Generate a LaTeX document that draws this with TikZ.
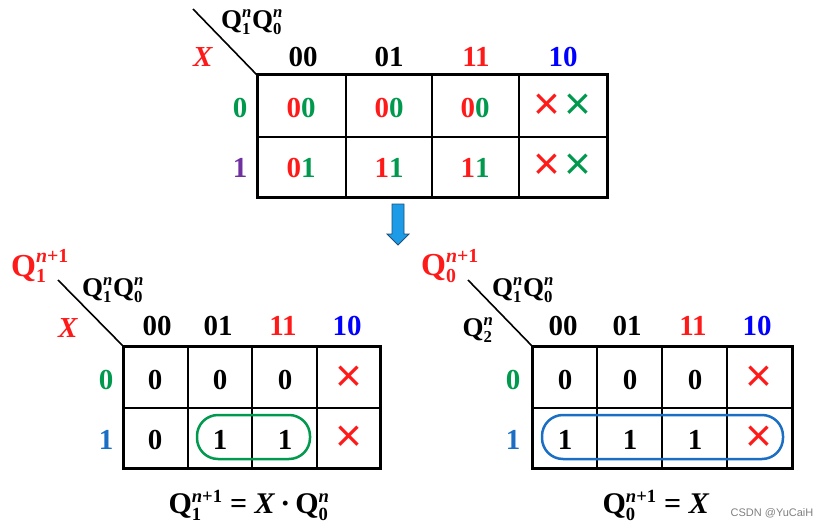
\documentclass[tikz,border=0pt]{standalone}
\usepackage{fontspec}
\setmainfont{Liberation Serif}
\setsansfont{Liberation Sans}
\usepackage{graphicx}
\definecolor{kred}{HTML}{FF1A1A}
\definecolor{kgreen}{HTML}{00994D}
\definecolor{kblue}{HTML}{0000FF}
\definecolor{rblue}{HTML}{1A6FC4}
\definecolor{kpurple}{HTML}{7030A0}
\definecolor{arrowfill}{HTML}{1E9BE6}
\definecolor{arrowline}{HTML}{1F4E79}
\newcommand\Qs[2]{$\mbox{Q}^{\mbox{\scalebox{0.62}{#2}}}_{\mbox{\scalebox{0.62}{#1}}}$}
\begin{document}
\begin{tikzpicture}[x=1pt,y=-1pt,
  every node/.style={inner sep=0pt},
  dig/.style={font=\fontsize{29}{30}\selectfont\bfseries},
  lab/.style={font=\fontsize{27}{30}\selectfont\bfseries},
  big/.style={font=\fontsize{32}{34}\selectfont\bfseries, text=kred},
  eq/.style={font=\fontsize{30}{32}\selectfont\bfseries},
  xm/.style={font=\fontsize{46}{46}\selectfont\sffamily\mdseries},
  outer/.style={line width=3pt},
  inner/.style={line width=1.2pt},
  diag/.style={line width=1.6pt},
  loopg/.style={draw=kgreen, line width=2.5pt, rounded corners=21pt},
  loopb/.style={draw=rblue, line width=2.5pt, rounded corners=21pt}]
\useasboundingbox (0,0) rectangle (825,527);
% ---------- top map ----------
\draw[inner] (346,75)--(346,197) (432,75)--(432,197) (519,75)--(519,197) (257,137)--(607,137);
\draw[outer] (257,75) rectangle (607,197);
\coordinate (tc) at (257,75);
\coordinate (td) at (193,9);
\draw[diag] (td) -- (tc);
\node[lab] (tqq) at (252,22) {\Qs{1}{\textit{n}}\Qs{0}{\textit{n}}};
\node[dig, text=kred] (tx) at (203,57) {\textit{X}};
\node[dig] (th1) at (303,57) {00};
\node[dig] (th2) at (389,57) {01};
\node[dig, text=kred] (th3) at (476,57) {11};
\node[dig, text=kblue] (th4) at (563,57) {10};
\node[dig, text=kgreen] (tr0) at (240,108) {0};
\node[dig, text=kpurple] (tr1) at (240,168) {1};
\node[dig] (t01) at (301,108) {\textcolor{kred}{0}\textcolor{kgreen}{0}};
\node[dig] (t02) at (389,108) {\textcolor{kred}{0}\textcolor{kgreen}{0}};
\node[dig] (t03) at (475,108) {\textcolor{kred}{0}\textcolor{kgreen}{0}};
\node[xm, text=kred] (t04a) at (547,107) {×};
\node[xm, text=kgreen] (t04b) at (578,107) {×};
\node[dig] (t11) at (301,168) {\textcolor{kred}{0}\textcolor{kgreen}{1}};
\node[dig] (t12) at (389,168) {\textcolor{kred}{1}\textcolor{kgreen}{1}};
\node[dig] (t13) at (475,168) {\textcolor{kred}{1}\textcolor{kgreen}{1}};
\node[xm, text=kred] (t14a) at (547,167) {×};
\node[xm, text=kgreen] (t14b) at (578,167) {×};
% ---------- arrow ----------
\draw[arrowline, fill=arrowfill, line width=0.8pt] (392,204)--(404,204)--(404,234)--(409,234)--(398,245)--(387,234)--(392,234)--cycle;
% ---------- bottom-left map ----------
\draw[inner] (188,346)--(188,468) (252,346)--(252,468) (317,346)--(317,468) (123,408)--(380,408);
\draw[outer] (123,346) rectangle (380,468);
\coordinate (lc) at (123,346);
\coordinate (ld) at (58,280);
\draw[diag] (ld) -- (lc);
\node[big] (lq) at (40,266) {\Qs{1}{\textit{n}+1}};
\node[lab] (lqq) at (113,290) {\Qs{1}{\textit{n}}\Qs{0}{\textit{n}}};
\node[dig, text=kred] (lx) at (68,328) {\textit{X}};
\node[dig] (lh1) at (157,326) {00};
\node[dig] (lh2) at (218,326) {01};
\node[dig, text=kred] (lh3) at (283,326) {11};
\node[dig, text=kblue] (lh4) at (347,326) {10};
\node[dig, text=kgreen] (lr0) at (106,380) {0};
\node[dig, text=rblue] (lr1) at (106,440) {1};
\node[dig] (l01) at (155,380) {0};
\node[dig] (l02) at (220,380) {0};
\node[dig] (l03) at (285,380) {0};
\node[xm, text=kred] (l04) at (349,379) {×};
\node[dig] (l11) at (155,440) {0};
\node[dig] (l12) at (220,440) {1};
\node[dig] (l13) at (285,440) {1};
\node[xm, text=kred] (l14) at (349,439) {×};
\draw[loopg] (197,415) rectangle (310,459);
% ---------- bottom-right map ----------
\draw[inner] (597,346)--(597,468) (662,346)--(662,468) (727,346)--(727,468) (532,408)--(792,408);
\draw[outer] (532,346) rectangle (792,468);
\coordinate (rc) at (532,346);
\coordinate (rd) at (468,280);
\draw[diag] (rd) -- (rc);
\node[big] (rq) at (450,266) {\Qs{0}{\textit{n}+1}};
\node[lab] (rqq) at (523,290) {\Qs{1}{\textit{n}}\Qs{0}{\textit{n}}};
\node[lab] (rq2) at (478,330) {\Qs{2}{\textit{n}}};
\node[dig] (rh1) at (563,326) {00};
\node[dig] (rh2) at (627,326) {01};
\node[dig, text=kred] (rh3) at (693,326) {11};
\node[dig, text=kblue] (rh4) at (757,326) {10};
\node[dig, text=kgreen] (rr0) at (513,380) {0};
\node[dig, text=rblue] (rr1) at (513,440) {1};
\node[dig] (r01) at (565,380) {0};
\node[dig] (r02) at (630,380) {0};
\node[dig] (r03) at (695,380) {0};
\node[xm, text=kred] (r04) at (759,379) {×};
\node[dig] (r11) at (565,440) {1};
\node[dig] (r12) at (630,440) {1};
\node[dig] (r13) at (695,440) {1};
\node[xm, text=kred] (r14) at (759,439) {×};
\draw[loopb] (542,415) rectangle (783,459);
% ---------- equations ----------
\node[eq] (eq1) at (249,505) {\Qs{1}{\textit{n}+1} = \textit{X}\,·\,\Qs{0}{\textit{n}}};
\node[eq] (eq2) at (656,505) {\Qs{0}{\textit{n}+1} = \textit{X}};
\node[font=\fontsize{11}{12}\selectfont\sffamily, text=gray] (wm) at (772,513) {CSDN @YuCaiH};
\end{tikzpicture}
\end{document}
